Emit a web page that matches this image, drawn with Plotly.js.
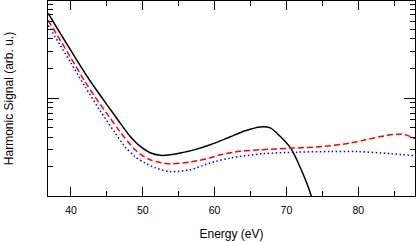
<!DOCTYPE html>
<html>
<head>
<meta charset="utf-8">
<script src="https://cdn.plot.ly/plotly-3.0.1.min.js"></script>
<style>html,body{margin:0;padding:0;background:#fff;}#chart{width:416px;height:242px;}</style>
</head>
<body>
<div id="chart"></div>
<script>
// Energy (eV) and harmonic signal (arb. u.)
const energyBlack = [36.83, 38.47, 40.0, 41.95, 43.35, 45.44, 46.83, 48.23, 48.93, 49.62, 51.02, 52.41, 53.81, 55.20, 57.29, 59.39, 62.18, 64.27, 66.36, 67.75, 69.15, 70.54, 71.94, 73.47, 74.5];
const signalBlack = [7.22, 4.59, 3.02, 1.79, 1.262, 0.774, 0.559, 0.408, 0.360, 0.324, 0.278, 0.262, 0.265, 0.276, 0.299, 0.335, 0.404, 0.465, 0.509, 0.498, 0.406, 0.313, 0.196, 0.100, 0.040];

const energyRed = [36.83, 38.47, 40.0, 41.95, 43.35, 45.44, 46.83, 48.23, 48.93, 49.62, 51.02, 52.41, 53.81, 56.60, 59.39, 60.78, 63.57, 66.36, 70.96, 75.15, 78.91, 81.0, 83.10, 85.19, 86.58, 87.98];
const signalRed = [6.13, 3.90, 2.54, 1.47, 1.024, 0.628, 0.454, 0.339, 0.298, 0.269, 0.236, 0.221, 0.214, 0.224, 0.246, 0.265, 0.288, 0.298, 0.310, 0.322, 0.349, 0.376, 0.406, 0.428, 0.423, 0.383];

const energyBlue = [36.83, 38.47, 40.0, 41.95, 44.04, 46.14, 47.53, 48.93, 50.32, 51.72, 53.81, 56.60, 59.39, 62.18, 66.78, 71.52, 76.12, 79.89, 84.49, 87.98];
const signalBlue = [5.46, 3.47, 2.26, 1.307, 0.748, 0.443, 0.320, 0.254, 0.218, 0.196, 0.179, 0.187, 0.219, 0.246, 0.272, 0.282, 0.286, 0.286, 0.272, 0.259];

const xTickVals = [40, 50, 60, 70, 80];
const xTickText = ['40', '50', '60', '70', '80'];
const yMajorTicks = [1];
const yMinorTicks = [0.2, 0.3, 0.4, 0.5, 0.6, 0.7, 0.8, 0.9, 2, 3, 4, 5, 6, 7, 8, 9];

const traces = [
  {x: energyBlack, y: signalBlack, mode: 'lines', line: {color: '#000000', width: 1.5, shape: 'spline', smoothing: 0.8}, hoverinfo: 'skip'},
  {x: energyRed, y: signalRed, mode: 'lines', line: {color: '#ff0000', width: 1.5, dash: '6px,3px', shape: 'spline', smoothing: 0.8}, hoverinfo: 'skip'},
  {x: energyBlue, y: signalBlue, mode: 'lines', line: {color: '#0000ff', width: 1.5, dash: '1.5px,2.5px', shape: 'spline', smoothing: 0.8}, hoverinfo: 'skip'}
];

const layout = {
  width: 416, height: 242,
  margin: {l: 48, r: 1, t: 1, b: 45.5},
  paper_bgcolor: '#ffffff', plot_bgcolor: '#ffffff',
  showlegend: false,
  font: {family: 'Liberation Sans, Arial, sans-serif', size: 11, color: '#000'},
  xaxis: {
    range: [36.8, 87.9],
    tickmode: 'array', tickvals: xTickVals, ticktext: xTickText,
    ticks: 'inside', ticklen: 9, tickwidth: 1, tickcolor: '#000',
    minor: {tickmode: 'linear', tick0: 35, dtick: 5, ticks: 'inside', ticklen: 5, tickwidth: 1, tickcolor: '#000'},
    showline: true, linecolor: '#000', linewidth: 1, mirror: 'ticks',
    showgrid: false, zeroline: false,
    tickfont: {size: 10.5},
    ticklabelstandoff: 4,
    title: {text: 'Energy (eV)', font: {size: 12}, standoff: 15}
  },
  yaxis: {
    type: 'log',
    range: [-0.995, 0.985],
    tickmode: 'array', tickvals: yMajorTicks,
    showticklabels: false,
    ticks: 'inside', ticklen: 11, tickwidth: 1, tickcolor: '#000',
    minor: {tickmode: 'array', tickvals: yMinorTicks, ticks: 'inside', ticklen: 5, tickwidth: 1, tickcolor: '#000'},
    showline: true, linecolor: '#000', linewidth: 1, mirror: 'ticks',
    showgrid: false, zeroline: false,
    title: {text: 'Harmonic Signal (arb. u.)', font: {size: 12}, standoff: 30}
  }
};

Plotly.newPlot('chart', traces, layout, {displayModeBar: false, staticPlot: true});
</script>
</body>
</html>
